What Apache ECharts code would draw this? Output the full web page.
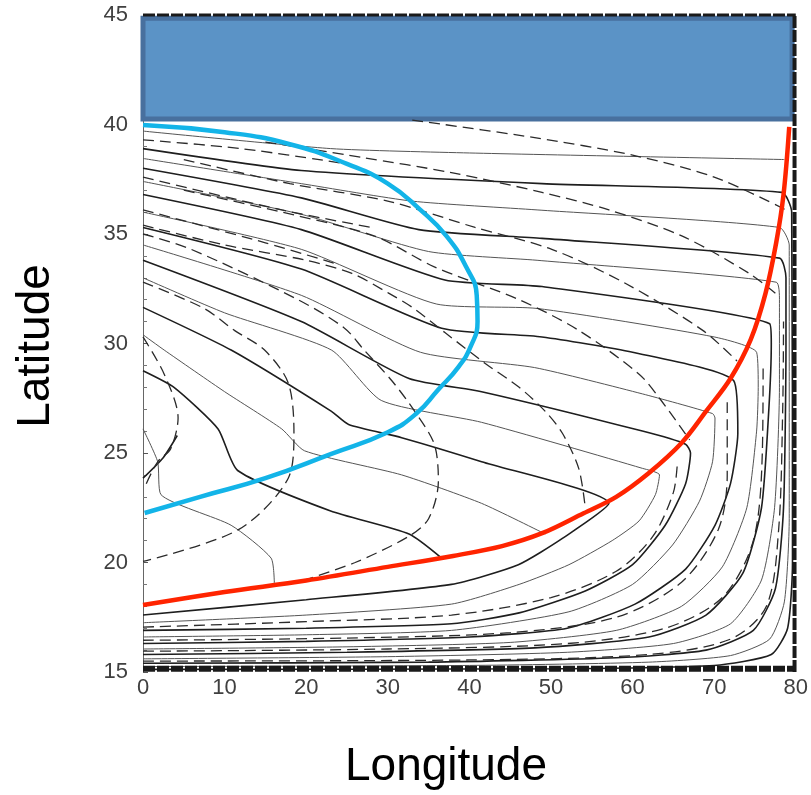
<!DOCTYPE html>
<html>
<head>
<meta charset="utf-8">
<script src="https://cdn.jsdelivr.net/npm/echarts@6/dist/echarts.min.js"></script>
<style>
  html, body { margin: 0; padding: 0; background: #ffffff; }
  #chart { width: 811px; height: 795px; }
</style>
</head>
<body>
<div id="chart"></div>
<script>
// Axis ranges (degrees)
const lonMin = 0, lonMax = 80, lonStep = 10;
const latMin = 15, latMax = 45, latStep = 5;

// Shaded block across the northern edge of the basin
const blockLon = [0, 79.55];
const blockLat = [40.25, 44.85];

// Highlighted boundaries [lon, lat]
const cyanBoundary = [[0,39.98],[10,39.65],[18,39.1],[25,38.2],[30,37.3],[34,36.1],[37.2,34.9],[39.6,33.5],[40.9,32.2],
  [41,31.0],[40.2,29.9],[38.6,28.9],[36.2,27.9],[33.5,26.8],[30,25.95],[23,24.95],[15,23.85],[7,23.0],[0.2,22.26]];
const redBoundary = [[0,18.06],[10,18.65],[20,19.18],[30,19.8],[38,20.3],[44,20.75],[49,21.35],[54,22.25],[58,23.0],
  [62,24.09],[66,25.46],[69,26.9],[72,28.4],[74.5,30.2],[76.3,32.3],[77.6,34.6],[78.5,36.8],[79.2,39.89]];

// Streamlines, heavy
const solidA = [[0,38.9],[19.4,37.9],[48.9,37.3],[78.3,36.9],[79.5,36],[79.6,20],[79,17],[77,15.8],[70,15.3],[50,15.15],[0,15.12]];
const solidB = [[0,38.0],[19.4,36.65],[33.8,35.2],[48.9,34.8],[78,33.9],[78.8,33],[78.8,30],[78.5,22.5],[77.5,18.8],[74.8,16.9],[69,16.0],[58,15.65],[35,15.45],[0,15.4]];
const solidC = [[0,36.8],[19.4,35.2],[37,32.9],[48.9,32.6],[76.8,30.9],[77,30],[76.7,27],[75.8,22.5],[73.5,19.5],[69,17.6],[62,16.6],[48,16.1],[25,15.9],[0,15.8]];
const solidD = [[0,35.3],[19.4,33.4],[36.6,30.7],[48.9,30.3],[60,29.6],[72.4,28.3],[72.9,25.9],[72,23.6],[70.1,21.7],[66.5,19.7],[60.3,18.1],[52,17.0],[40,16.6],[20,16.4],[0,16.3]];
const solidE = [[0,33.8],[19.4,31.0],[32.6,28.4],[41.5,27.8],[61.2,26.0],[66.5,25.4],[67.1,25.0],[66.5,23.6],[64,21.7],[60,19.9],[54.2,18.7],[46.1,17.7],[37.8,17.2],[20,17.0],[0,16.9]];
const solidF = [[0,31.65],[10.8,29.7],[23.1,26.9],[25.2,26.3],[31.7,25.7],[41.5,24.6],[57.1,22.7],[51.4,21.1],[46,19.9],[37.8,19.0],[20,18.3],[0,17.6]];
const solidG = [[0,28.76],[3.8,28.0],[9.2,26.1],[11.6,24.2],[23.0,22.35],[32.6,21.3],[36.6,20.2]];
const solidStub = [[0,23.85],[2.5,24.8],[4.2,25.8]];

// Streamlines, light
const thinA = [[0,39.7],[23,38.9],[40,38.7],[78.6,38.4]];
const thinB = [[0,38.45],[19.4,37.3],[33,36.5],[48.3,36.1],[78,35.3],[79.2,34.5],[79.2,22],[78.6,18.2],[76.8,16.5],[72,15.75],[62,15.45],[40,15.3],[0,15.25]];
const thinC = [[0,37.4],[19.4,35.9],[35,34.2],[48.3,33.8],[77.6,32.8],[78,32],[78,28],[77.4,22.5],[75.8,19.2],[72,17.2],[65,16.3],[52,15.9],[30,15.7],[0,15.6]];
const thinD = [[0,36.0],[19.4,34.3],[36,31.8],[48.3,31.6],[70,30.3],[75.2,29.6],[75.4,28],[75.2,26],[74,22.5],[71,19.8],[66,18.0],[58,16.9],[45,16.35],[25,16.15],[0,16.05]];
const thinE = [[0,34.5],[19.4,32.2],[34,29.6],[48,28.9],[61.2,27.7],[69.8,26.8],[70.1,26.6],[69.8,24.6],[68.2,22.8],[64.9,20.8],[60,19.0],[52.2,17.75],[37.8,16.9],[20,16.7],[0,16.6]];
const thinF = [[0,30.4],[2.6,29.7],[10,27.8],[17,26.1],[19.8,25.1],[31.7,24.0],[41.5,22.7],[49.3,21.3]];
const thinG = [[0,33.0],[10,31.4],[23.1,29.7],[29.2,27.4],[41.5,26.4],[61.2,24.3],[63.3,24.0],[62.8,23.1],[60.8,21.9],[57.5,21.0],[52.2,19.9],[46.1,19.0],[37.8,18.1],[20,17.6],[0,17.25]];
const thinH = [[0,26.1],[1.8,24.6],[2.2,23.1],[10.8,21.7],[15.7,20.2],[16.1,19.0]];

// Dashed contours
const dashTop = [[33,40.2],[48,39.4],[60,38.6],[70,37.6],[78.8,36.1]];
const dashUpper = [[15,39.2],[26.8,38.5],[37.8,37.8],[48.9,36.9],[57.1,36.1],[66.1,34.9],[74.3,33.2],[77.5,32.3]];
const dashMid = [[5,38.4],[18,37.3],[30,36.5],[40.7,35.3],[50.1,34.3],[59.1,32.75],[68.6,30.6],[72.8,29.2]];
const dashLow = [[5,37.0],[17,36.0],[28.4,34.9],[35.7,33.5],[46.1,32.0],[53.4,30.6],[60.8,28.6],[63.3,27.5],[67,25.6]];
const dashOval1 = [[0,35.4],[10,34.5],[20,33.8],[25.6,33.2],[30.1,32.3],[33,31.65],[37,30.5],[41.9,29.1],[46.1,28.0],[49.3,26.9],[51.4,25.9],[53.4,24.3],[54.2,22.5]];
const dashOval2 = [[0,35.0],[5.9,34.3],[19,32.0],[24.7,30.7],[27.1,29.7],[30.5,28.3],[33.3,26.9],[35.7,25.4],[36.2,23.7],[35,22.0],[32.6,21.2],[26,20.0],[19,19.1]];
const dashOval3 = [[0,32.8],[7.5,31.6],[11.2,30.6],[14.9,29.7],[17.8,28.2],[18.5,25.9],[17.8,23.85],[11.7,21.5],[0,20.05]];
const dashOval4 = [[0,30.3],[2.6,28.6],[4.3,26.6],[3.4,25.2],[1.8,24.6],[0.4,23.6]];
const dashLeftA = [[0,39.3],[12,38.9],[25,38.2]];
const dashLeftB = [[0,37.6],[17,36.1],[28,35.3]];
const dashLeftC = [[0,36.1],[15,34.6],[24,33.6]];
const dashBottomA = [[0,17.05],[20,17.3],[37.8,17.6],[50,18.4],[58,19.6],[62.5,21.2],[65,23.2],[65.5,24.6]];
const dashBottomB = [[0,16.45],[25,16.55],[45,16.8],[58,17.5],[66,19.1],[70.5,21.5],[71.6,24],[71.6,27.5]];
const dashBottomC = [[0,15.95],[30,16.05],[52,16.3],[64,17.0],[71,18.4],[74.8,21],[75.9,25],[76,29]];
const dashBottomD = [[0,15.5],[40,15.55],[62,15.8],[72,16.5],[76.4,18],[77.9,21.5],[78.4,27],[78.5,31]];

const heavy = [solidA, solidB, solidC, solidD, solidE, solidF, solidG, solidStub];
const light = [thinA, thinB, thinC, thinD, thinE, thinF, thinG, thinH];
const dashed = [dashTop, dashUpper, dashMid, dashLow, dashOval1, dashOval2, dashOval3, dashOval4,
  dashLeftA, dashLeftB, dashLeftC, dashBottomA, dashBottomB, dashBottomC, dashBottomD];

const FONT = "'Liberation Sans', Arial, Helvetica, sans-serif";

function lineSeries(data, color, width, type, z, smooth) {
  return {
    type: 'line', data: data, showSymbol: false, symbol: 'none', smooth: smooth,
    lineStyle: { color: color, width: width, type: type }, z: z, silent: true
  };
}

const series = [];
heavy.forEach(d => series.push(lineSeries(d, '#1e1e1e', 1.6, 'solid', 2, 0.2)));
light.forEach(d => series.push(lineSeries(d, '#555555', 1, 'solid', 2, 0.2)));
dashed.forEach(d => series.push(lineSeries(d, '#2b2b2b', 1.3, [11, 6], 2, 0.3)));

// frame of the plotting box
const frameStyle = (w) => ({ color: '#1a1a1a', width: w, type: [12, 2] });
series.push({ type: 'line', data: [[lonMin, latMax], [lonMax, latMax]], showSymbol: false, clip: false,
  lineStyle: frameStyle(3), z: 6, silent: true });
series.push({ type: 'line', data: [[79.85, latMin], [79.85, latMax]], showSymbol: false, clip: false,
  lineStyle: frameStyle(4), z: 6, silent: true });
series.push({ type: 'line', data: [[lonMin, 15.15], [lonMax, 15.15]], showSymbol: false, clip: false,
  lineStyle: frameStyle(6), z: 6, silent: true });

// highlighted boundaries
series.push(lineSeries(cyanBoundary, '#13b4e8', 4.5, 'solid', 4, 0.5));
series.push(lineSeries(redBoundary, '#ff2400', 4.5, 'solid', 4, 0.35));

// shaded block
series.push({
  type: 'line', data: [], z: 5, silent: true,
  markArea: {
    silent: true,
    itemStyle: { color: '#5b93c6', borderColor: '#48709e', borderWidth: 5 },
    data: [[{ coord: [blockLon[0], blockLat[0]] }, { coord: [blockLon[1], blockLat[1]] }]]
  }
});

const chart = echarts.init(document.getElementById('chart'), null, { renderer: 'canvas' });
chart.setOption({
  animation: false,
  backgroundColor: '#ffffff',
  grid: { left: 143, right: 14, top: 15, bottom: 123, show: false },
  xAxis: {
    type: 'value', min: lonMin, max: lonMax, interval: lonStep,
    splitLine: { show: false },
    axisLine: { show: false },
    axisTick: { show: false },
    axisLabel: { fontSize: 22, color: '#404040', margin: 5, fontFamily: FONT }
  },
  yAxis: {
    type: 'value', min: latMin, max: latMax, interval: latStep,
    splitLine: { show: false },
    axisLine: { show: true, lineStyle: { color: '#666666', width: 1 } },
    axisTick: { show: true, inside: true, length: 5, lineStyle: { color: '#555555' } },
    minorTick: { show: true, splitNumber: 5, length: 4, lineStyle: { color: '#777777' } },
    axisLabel: { fontSize: 22, color: '#404040', margin: 15, fontFamily: FONT }
  },
  graphic: [
    { type: 'text', x: 446, y: 767, style: { text: 'Longitude', font: '46px ' + FONT, fill: '#000000',
      textAlign: 'center', textVerticalAlign: 'middle' } },
    { type: 'text', x: 36, y: 346, rotation: Math.PI / 2, style: { text: 'Latitude', font: '46px ' + FONT, fill: '#000000',
      textAlign: 'center', textVerticalAlign: 'middle' } }
  ],
  series: series
});
</script>
</body>
</html>
